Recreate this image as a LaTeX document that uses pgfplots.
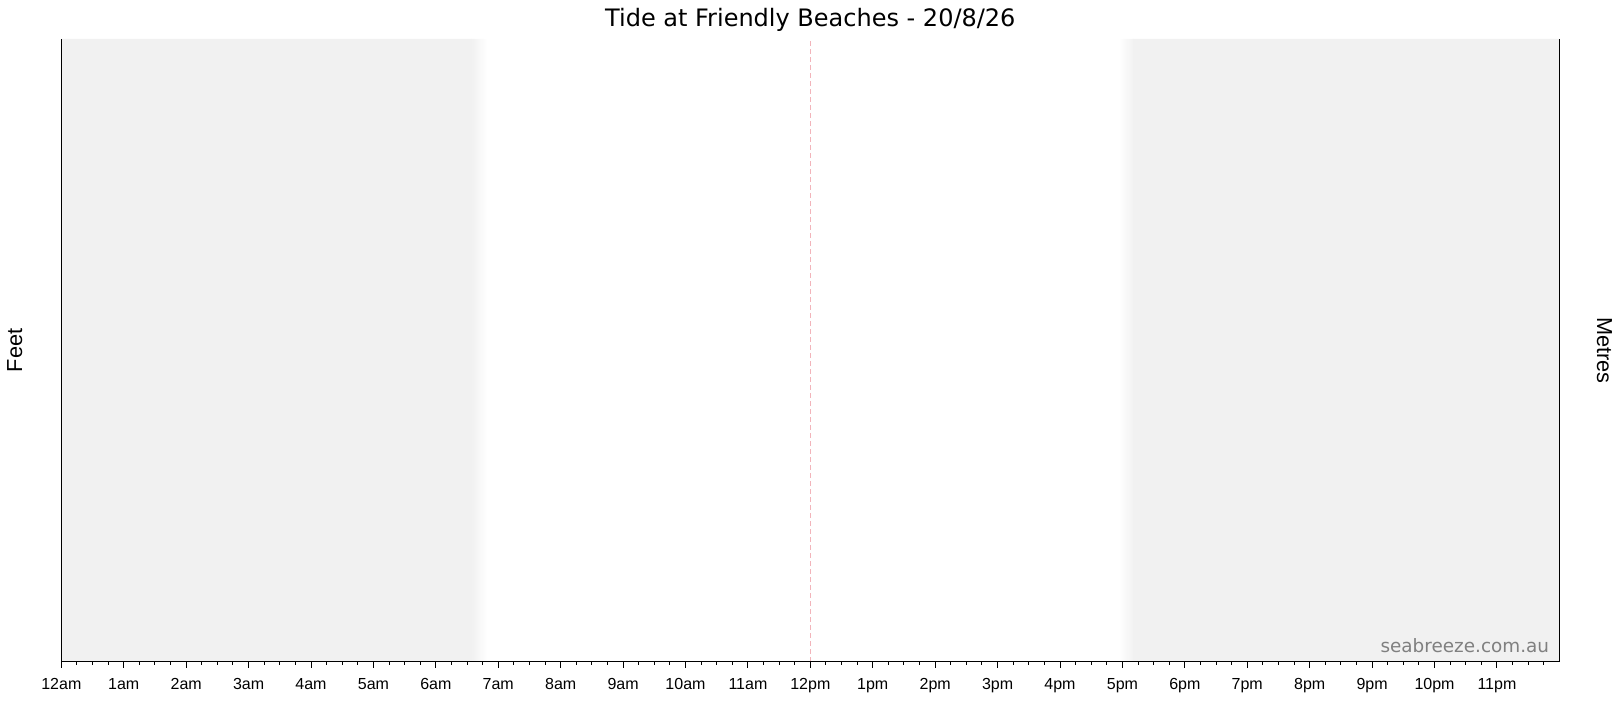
\documentclass[border=0pt]{standalone}
\usepackage{fontspec}
\setmainfont{Liberation Sans}
\newfontfamily\titlefont{DejaVu Sans}
\usepackage{pgfplots}
\pgfplotsset{compat=1.18}

\definecolor{night}{HTML}{F1F1F1}
\definecolor{noon}{HTML}{F2B4BA}
\definecolor{mark}{HTML}{808080}

\begin{document}
\begin{tikzpicture}
% 1 px of the reference = 0.75pt
\useasboundingbox (-46pt,-35.25pt) rectangle (1169pt,496.5pt);
\begin{axis}[
    at={(0,0)}, anchor=south west,
    scale only axis,
    width=1123.5pt, height=467.25pt,
    xmin=0, xmax=24, ymin=0, ymax=1,
    axis x line*=bottom,
    axis y line*=box,
    x axis line style={-, line width=0.75pt},
    y axis line style={-, line width=0.75pt},
    ytick=\empty,
    xtick={0,...,23},
    xticklabels={12am,1am,2am,3am,4am,5am,6am,7am,8am,9am,10am,11am,
                 12pm,1pm,2pm,3pm,4pm,5pm,6pm,7pm,8pm,9pm,10pm,11pm},
    minor xtick={0.25,0.5,...,23.75},
    tick align=outside,
    xtick pos=bottom,
    major tick length=4.5pt,
    minor tick length=2.25pt,
    every tick/.style={black, line width=0.75pt},
    xticklabel style={font=\fontsize{12}{14}\selectfont, anchor=base, yshift=-16.5pt},
    clip=false,
    axis on top,
  ]
% night shading
\addplot[draw=none, fill=night] coordinates {(0,0) (6.58,0) (6.58,1) (0,1)} \closedcycle;
\addplot[draw=none, left color=night, right color=white] coordinates {(6.57,0) (6.82,0) (6.82,1) (6.57,1)} \closedcycle;
\addplot[draw=none, left color=white, right color=night] coordinates {(16.95,0) (17.18,0) (17.18,1) (16.95,1)} \closedcycle;
\addplot[draw=none, fill=night] coordinates {(17.17,0) (24,0) (24,1) (17.17,1)} \closedcycle;
% noon
\addplot[noon, line width=0.75pt, dash pattern=on 3.75pt off 2.25pt] coordinates {(12,0) (12,1)};

\node[anchor=base, font=\titlefont\fontsize{18}{20}\selectfont] at (rel axis cs:0.5,1) [yshift=9pt] {Tide at Friendly Beaches - 20/8/26};
\node[anchor=base, rotate=90, font=\fontsize{16.3}{18}\selectfont] at (rel axis cs:-0.0262,0.5) {Feet};
\node[anchor=base, rotate=-90, font=\fontsize{16.3}{18}\selectfont] at (rel axis cs:1.0252,0.5) {Metres};
\node[anchor=base east, text=mark, inner sep=0pt, font=\titlefont\fontsize{13.8}{16}\selectfont] at (rel axis cs:1,0) [xshift=-7.5pt, yshift=7pt] {seabreeze.com.au};
\end{axis}
\end{tikzpicture}
\end{document}
